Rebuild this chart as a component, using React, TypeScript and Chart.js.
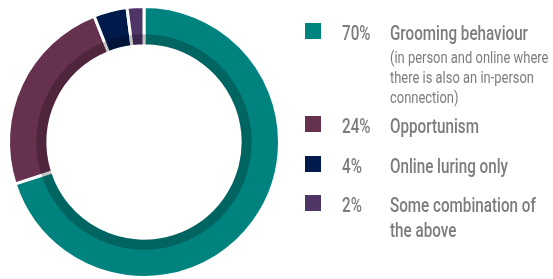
import React, { useEffect, useRef } from "react";
import { Chart, registerables } from "chart.js";

Chart.register(...registerables);

const categories = ["Grooming behaviour", "Opportunism", "Online luring only", "Some combination of the above"];
const values = [70, 24, 4, 2];
const percentLabels = ["70%", "24%", "4%", "2%"];
const mainLines = [["Grooming behaviour"], ["Opportunism"], ["Online luring only"], ["Some combination of", "the above"]];
const noteLines = [["(in person and online where", "there is also an in-person", "connection)"], [], [], []];
const colors = ["#00827F", "#66314F", "#001A4B", "#4F3566"];

const FONT = '"Roboto", "DejaVu Sans", sans-serif';

const innerShade = {
  id: "innerShade",
  afterDatasetsDraw(chart: any) {
    const meta = chart.getDatasetMeta(0);
    const arc = meta.data[0];
    if (!arc) return;
    const { x, y, innerRadius } = arc.getProps(["x", "y", "innerRadius"], true);
    const ctx = chart.ctx;
    const r0 = innerRadius + 1.5;
    const r1 = innerRadius + 11.5;
    ctx.save();
    ctx.beginPath();
    ctx.arc(x, y, r1, 0, Math.PI * 2);
    ctx.arc(x, y, r0, 0, Math.PI * 2, true);
    ctx.closePath();
    ctx.fillStyle = "rgba(0,0,0,0.23)";
    ctx.fill();
    ctx.restore();
  },
};

const sideLegend = {
  id: "sideLegend",
  afterDraw(chart: any) {
    const ctx = chart.ctx;
    const rowBaselines = [40, 133, 173, 212];
    ctx.save();
    ctx.textBaseline = "alphabetic";
    ctx.textAlign = "left";
    ctx.font = `500 20px ${FONT}`;
    const sx = 138 / ctx.measureText("Grooming behaviour").width;
    const drawText = (t: string, x: number, y: number, font: string) => {
      ctx.save();
      ctx.font = font;
      ctx.translate(x, y);
      ctx.scale(sx, 1);
      ctx.fillText(t, 0, 0);
      ctx.restore();
    };
    categories.forEach((_, i) => {
      const base = rowBaselines[i];
      ctx.fillStyle = colors[i];
      ctx.fillRect(305, base - 17, 16, 16);
      ctx.fillStyle = "#7c7c7c";
      drawText(percentLabels[i], 342, base, `500 20px ${FONT}`);
      let yy = base;
      mainLines[i].forEach((t) => {
        drawText(t, 390, yy, `500 20px ${FONT}`);
        yy += 25;
      });
      let ny = base + 23;
      noteLines[i].forEach((t) => {
        drawText(t, 390, ny, `400 17px ${FONT}`);
        ny += 20;
      });
    });
    ctx.restore();
  },
};

export default function App() {
  const ref = useRef<HTMLCanvasElement>(null);
  useEffect(() => {
    if (!ref.current) return;
    const chart = new Chart(ref.current, {
      type: "doughnut",
      data: {
        labels: categories,
        datasets: [
          {
            data: values,
            backgroundColor: colors,
            borderColor: "#ffffff",
            borderWidth: 3,
          },
        ],
      },
      options: {
        responsive: false,
        animation: false,
        cutout: "71%",
        layout: { padding: { left: 7, top: 5, bottom: 0, right: 272 } },
        plugins: { legend: { display: false }, tooltip: { enabled: false } },
      },
      plugins: [innerShade, sideLegend],
    });
    return () => chart.destroy();
  }, []);
  return (
    <div style={{ position: "fixed", left: 0, top: 0, width: 553, height: 279, background: "#fff" }}>
      <canvas ref={ref} width={553} height={279} style={{ display: "block" }} />
    </div>
  );
}
